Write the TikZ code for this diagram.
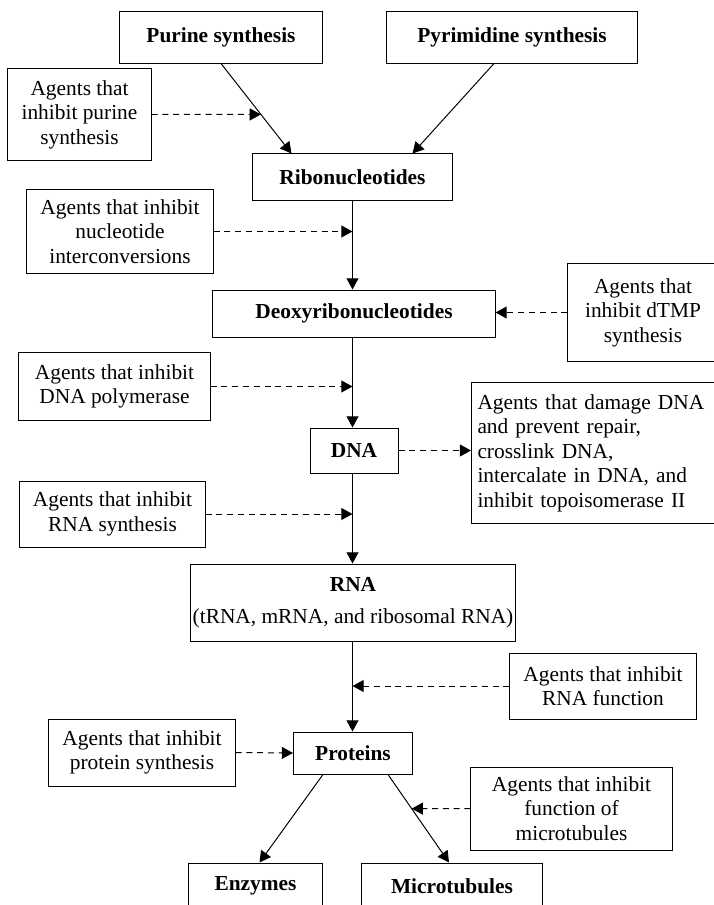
\documentclass[tikz,border=0pt]{standalone}
\usepackage{fontspec}
\setmainfont{Liberation Serif}
\usetikzlibrary{arrows.meta,calc}

\begin{document}
\begin{tikzpicture}[x=0.025cm,y=-0.025cm]
  % Estilos
  \tikzset{
    main_box/.style={draw, line width=0.7pt, inner sep=0pt, align=center,
      font=\fontsize{15.2}{17.4}\selectfont\bfseries},
    agent_box/.style={draw, line width=0.7pt, inner sep=0pt, align=center,
      font=\fontsize{15.2}{17.4}\selectfont},
    flow_arrow/.style={line width=0.7pt, -{Triangle[length=0.28cm,width=0.3cm]}},
    block_arrow/.style={flow_arrow, dash pattern=on 0.15cm off 0.12cm}
  }
  \useasboundingbox (0,0) rectangle (714,905);
  \clip (0,0) rectangle (714,905);

  % Cajas principales
  \node[main_box, minimum width=5.05cm, minimum height=1.275cm] (purine) at (221,37.5) {Purine synthesis};
  \node[main_box, minimum width=6.25cm, minimum height=1.275cm] (pyrimidine) at (512,37.5) {Pyrimidine synthesis};
  \node[main_box, minimum width=4.975cm, minimum height=1.15cm] (ribo) at (352.5,177) {Ribonucleotides};
  \node[main_box, minimum width=7.05cm, minimum height=1.175cm] (deoxy) at (354,313.5) {Deoxyribonucleotides};
  \node[main_box, minimum width=2.2cm, minimum height=1.125cm] (dna) at (354,450.5) {DNA};
  \node[main_box, minimum width=8.1cm, minimum height=1.925cm] (rna) at (353,602.5)
    {RNA\\[5.4pt]\mdseries (tRNA, mRNA, and ribosomal RNA)};
  \node[main_box, minimum width=2.975cm, minimum height=1.05cm] (proteins) at (353,753) {Proteins};
  \node[main_box, minimum width=3.325cm, minimum height=1.15cm] (enzymes) at (255.5,886) {Enzymes};
  \node[main_box, minimum width=4.5cm, minimum height=1.15cm] (microtubules) at (452,886) {Microtubules};

  % Cajas de agentes
  \node[agent_box, minimum width=3.575cm, minimum height=2.275cm] (ag_purine) at (79.5,114.5)
    {Agents that\\inhibit purine\\synthesis};
  \node[agent_box, minimum width=4.65cm, minimum height=2.075cm] (ag_nucl) at (120,231.5)
    {Agents that inhibit\\nucleotide\\interconversions};
  \node[agent_box, minimum width=3.75cm, minimum height=2.425cm] (ag_dtmp) at (643,312.5)
    {Agents that\\inhibit dTMP\\synthesis};
  \node[agent_box, minimum width=4.775cm, minimum height=1.675cm] (ag_pol) at (114.5,386.5)
    {Agents that inhibit\\DNA polymerase};
  \node[agent_box, align=left, text width=5.9cm, inner xsep=0.15cm, minimum height=3.525cm,
    anchor=north west] (ag_damage) at (471,382)
    {Agents that damage DNA\\and prevent repair,\\crosslink DNA,\\intercalate in DNA, and\\inhibit topoisomerase II};
  \node[agent_box, minimum width=4.625cm, minimum height=1.65cm] (ag_rnasyn) at (112.5,514)
    {Agents that inhibit\\RNA synthesis};
  \node[agent_box, minimum width=4.65cm, minimum height=1.65cm] (ag_rnafn) at (603,686)
    {Agents that inhibit\\RNA function};
  \node[agent_box, minimum width=4.65cm, minimum height=1.675cm] (ag_prot) at (142,752.5)
    {Agents that inhibit\\protein synthesis};
  \node[agent_box, minimum width=5.025cm, minimum height=2.075cm] (ag_micro) at (571.5,808.5)
    {Agents that inhibit\\function of\\microtubules};

  % Puntos sobre las flechas oblicuas
  \coordinate (ribo_left) at ($(ribo.north)+(-61,0)$);
  \coordinate (ribo_right) at ($(ribo.north)+(60,0)$);
  \coordinate (pyr_out) at ($(pyrimidine.south)+(-18,0)$);
  \coordinate (prot_left) at ($(proteins.south)+(-30,0)$);
  \coordinate (prot_right) at ($(proteins.south)+(35,0)$);
  \coordinate (enz_in) at ($(enzymes.north)+(4,0)$);
  \coordinate (micro_in) at ($(microtubules.north)+(-3,0)$);
  \coordinate (purine_hit) at ($(purine.south)!0.566!(ribo_left)$);
  \coordinate (micro_hit) at ($(prot_right)!0.388!(micro_in)$);

  % Flechas de la ruta
  \draw[flow_arrow] (purine.south) -- (ribo_left);
  \draw[flow_arrow] (pyr_out) -- (ribo_right);
  \draw[flow_arrow] (ribo.south) -- (ribo.south |- deoxy.north);
  \draw[flow_arrow] (ribo.south |- deoxy.south) -- (ribo.south |- dna.north);
  \draw[flow_arrow] (ribo.south |- dna.south) -- (ribo.south |- rna.north);
  \draw[flow_arrow] (ribo.south |- rna.south) -- (ribo.south |- proteins.north);
  \draw[flow_arrow] (prot_left) -- (enz_in);
  \draw[flow_arrow] (prot_right) -- (micro_in);

  % Flechas de inhibicion
  \draw[block_arrow] (ag_purine.east) -- (purine_hit);
  \draw[block_arrow] (ag_nucl.east) -- (ag_nucl.east -| ribo.south);
  \draw[block_arrow] (ag_dtmp.west) -- (ag_dtmp.west -| deoxy.east);
  \draw[block_arrow] (ag_pol.east) -- (ag_pol.east -| ribo.south);
  \draw[block_arrow] (dna.east) -- (dna.east -| ag_damage.west);
  \draw[block_arrow] (ag_rnasyn.east) -- (ag_rnasyn.east -| ribo.south);
  \draw[block_arrow] (ag_rnafn.west) -- (ag_rnafn.west -| ribo.south);
  \draw[block_arrow] (ag_prot.east) -- (proteins.west);
  \draw[block_arrow] (ag_micro.west) -- (micro_hit);
\end{tikzpicture}
\end{document}
